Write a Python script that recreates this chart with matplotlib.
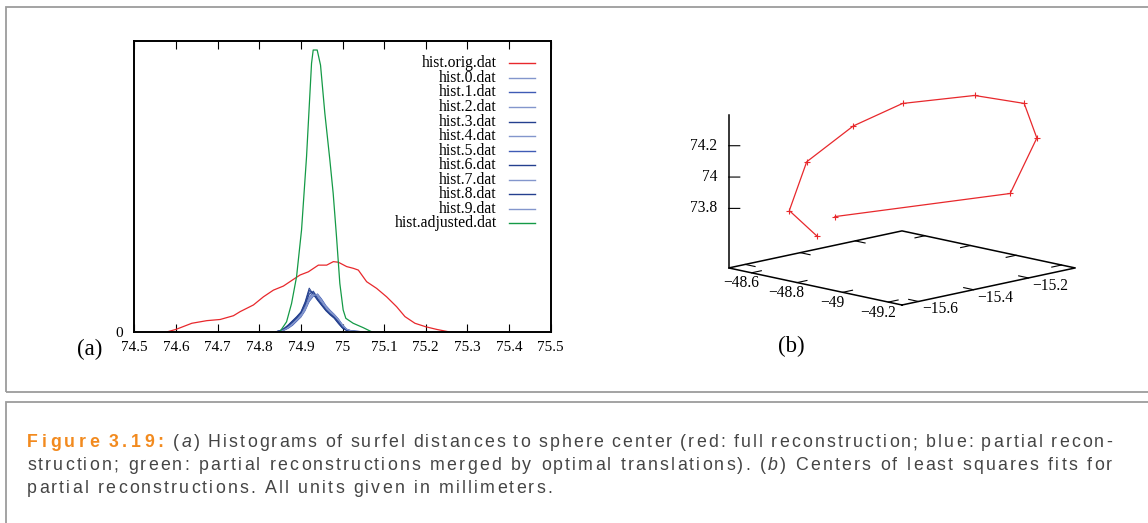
import re
import numpy as np
import matplotlib
matplotlib.use("Agg")
import matplotlib.pyplot as plt
from matplotlib.patches import Rectangle
from mpl_toolkits.mplot3d import proj3d

W, H, DPI = 1148, 523, 100
SERIF = ["Liberation Serif", "DejaVu Serif"]
CAPTION_FONT = ["Liberation Sans", "DejaVu Sans"]
plt.rcParams["font.family"] = SERIF

RED = "#e8282c"
GREEN = "#149a46"
INK = "#444444"
ORANGE = "#f28a1e"
FRAME = "#9c9c9c"

# --- (a) histograms of surfel distances (counts, axis height = 100) ---
orig_x = [74.58, 74.60, 74.638, 74.674, 74.706, 74.738, 74.754, 74.786, 74.81, 74.834,
          74.858, 74.882, 74.898, 74.918, 74.942, 74.962, 74.978, 74.99, 75.01, 75.026,
          75.038, 75.058, 75.082, 75.106, 75.13, 75.15, 75.174, 75.2, 75.226, 75.254]
orig_y = [0, 0.8, 2.9, 3.8, 4.2, 5.5, 6.9, 9.2, 12.0, 14.3,
          15.7, 18.0, 19.5, 20.6, 22.9, 22.9, 24.1, 23.9, 22.4, 21.8,
          21.2, 17.2, 14.9, 12.0, 8.6, 5.2, 2.9, 1.7, 0.8, 0]

adj_x = [74.8496, 74.8656, 74.8776, 74.8896, 74.9016, 74.9136, 74.9256, 74.9296, 74.9392,
         74.9472, 74.9576, 74.9696, 74.9776, 74.9856, 74.9936, 75.0016, 75.008, 75.0256,
         75.0496, 75.0696]
adj_y = [0, 3.4, 9.7, 18.9, 35.0, 60.2, 92.3, 96.9, 96.9,
         91.7, 75.1, 59.1, 47.6, 32.7, 16.6, 7.5, 4.6, 2.9,
         1.4, 0]

part_x = [74.84, 74.85, 74.86, 74.87, 74.88, 74.89, 74.90, 74.91, 74.92, 74.93, 74.94,
          74.95, 74.96, 74.97, 74.98, 74.99, 75.00, 75.01, 75.02, 75.03, 75.04, 75.05]
hist_0 = [0, 0.3, 1.0, 2.0, 3.4, 4.8, 6.2, 9.2, 13.8, 12.6, 11.2, 9.4, 7.6, 6.2, 5.0, 3.2, 1.4, 0.5, 0.2, 0.1, 0.05, 0]
hist_1 = [0, 0.2, 0.8, 1.6, 2.8, 4.2, 5.8, 8.4, 11.8, 13.4, 12.2, 10.0, 8.0, 6.6, 5.4, 3.8, 1.8, 0.6, 0.3, 0.1, 0.05, 0]
hist_2 = [0, 0.1, 0.6, 1.4, 2.6, 4.0, 5.4, 7.8, 11.0, 12.8, 12.6, 10.6, 8.6, 7.0, 5.8, 4.2, 2.2, 0.8, 0.3, 0.2, 0.1, 0]
hist_3 = [0, 0.4, 1.2, 2.4, 3.8, 5.2, 6.8, 10.2, 15.0, 12.8, 10.8, 9.0, 7.2, 5.8, 4.6, 2.8, 1.2, 0.4, 0.2, 0.1, 0, 0]
hist_4 = [0, 0.2, 0.9, 1.9, 3.2, 4.6, 6.2, 9.0, 12.6, 14.0, 11.8, 9.6, 7.8, 6.4, 5.2, 3.4, 1.6, 0.6, 0.2, 0.1, 0.05, 0]
hist_5 = [0, 0.1, 0.5, 1.2, 2.2, 3.6, 5.0, 7.2, 10.4, 12.2, 13.0, 11.2, 9.0, 7.4, 6.0, 4.4, 2.4, 0.9, 0.4, 0.2, 0.1, 0]
hist_6 = [0, 0.3, 1.1, 2.2, 3.6, 5.0, 6.6, 9.8, 14.2, 13.2, 11.0, 9.2, 7.4, 6.0, 4.8, 3.0, 1.3, 0.5, 0.2, 0.1, 0, 0]
hist_7 = [0, 0.2, 0.7, 1.5, 2.7, 4.1, 5.6, 8.0, 11.4, 13.0, 12.4, 10.4, 8.4, 6.8, 5.6, 4.0, 2.0, 0.7, 0.3, 0.1, 0.05, 0]
hist_8 = [0, 0.3, 0.9, 2.0, 3.3, 4.7, 6.4, 9.2, 13.0, 13.8, 11.4, 9.4, 7.6, 6.2, 5.0, 3.4, 1.5, 0.5, 0.2, 0.1, 0, 0]
hist_9 = [0, 0.1, 0.7, 1.5, 2.5, 3.9, 5.2, 7.4, 10.8, 12.4, 12.8, 10.8, 8.8, 7.2, 5.9, 4.3, 2.3, 0.8, 0.3, 0.2, 0.1, 0]
partial = [hist_0, hist_1, hist_2, hist_3, hist_4, hist_5, hist_6, hist_7, hist_8, hist_9]
blue_shades = ["#8396cc", "#3f5bb5", "#8396cc", "#24408f", "#8396cc",
               "#3f5bb5", "#24408f", "#8396cc", "#24408f", "#8396cc"]

x_ticks = [74.5, 74.6, 74.7, 74.8, 74.9, 75.0, 75.1, 75.2, 75.3, 75.4, 75.5]
x_tick_labels = ["74.5", "74.6", "74.7", "74.8", "74.9", "75", "75.1", "75.2", "75.3", "75.4", "75.5"]

# --- (b) centres of least squares fits (mm) ---
cx = [-15.563, -15.550, -15.471, -15.339, -15.218, -15.087, -15.035, -15.037, -15.148, -15.530]
cy = [-48.769, -48.633, -48.614, -48.659, -48.729, -48.887, -49.042, -49.100, -49.117, -48.809]
cz = [73.672, 73.786, 74.062, 74.255, 74.375, 74.426, 74.404, 74.202, 73.895, 73.795]
XLO, XHI = -15.66, -15.03
YLO, YHI = -49.26, -48.50
ZBASE, ZTOP = 73.42, 74.396
x3_ticks = [-15.6, -15.4, -15.2]
y3_ticks = [-48.6, -48.8, -49.0, -49.2]
z3_ticks = [73.8, 74.0, 74.2]
x3_labels = ["\u221215.6", "\u221215.4", "\u221215.2"]
y3_labels = ["\u221248.6", "\u221248.8", "\u221249", "\u221249.2"]
z3_labels = ["73.8", "74", "74.2"]

caption = [
    "Figure 3.19: ({a}) Histograms of surfel distances to sphere center (red: full reconstruction; blue: partial recon-",
    "struction; green: partial reconstructions merged by optimal translations). ({b}) Centers of least squares fits for",
    "partial reconstructions. All units given in millimeters.",
]

fig = plt.figure(figsize=(W / DPI, H / DPI), dpi=DPI)
fig.patch.set_facecolor("white")


def fx(px):
    return px / W


def fy(py):
    # image row (from top) -> figure fraction
    return (H - py) / H


# outer frames
fig.patches.append(Rectangle((fx(5.5), fy(391.5)), 1.2, 384.5 / H, transform=fig.transFigure,
                             fill=False, edgecolor=FRAME, lw=1.3))
fig.patches.append(Rectangle((fx(5.5), -0.2), 1.2, 0.2 + fy(401.7), transform=fig.transFigure,
                             fill=False, edgecolor=FRAME, lw=1.3))

# --- panel (a) ---
ax = fig.add_axes([fx(134.4), fy(331.7), 416.2 / W, 290.7 / H])
ax.plot(orig_x, orig_y, color=RED, lw=0.9)
for hist, col in zip(partial, blue_shades):
    ax.plot(part_x, hist, color=col, lw=0.7)
ax.plot(adj_x, adj_y, color=GREEN, lw=0.9)
ax.set_xlim(74.5, 75.5)
ax.set_ylim(0, 100)
ax.set_xticks(x_ticks)
ax.set_xticklabels(x_tick_labels)
ax.set_yticks([0])
ax.set_yticklabels(["0"])
ax.tick_params(axis="x", direction="in", length=6, width=0.8, top=True, labelsize=11, pad=7)
ax.tick_params(axis="y", length=0, pad=8, labelsize=11)
for sp in ax.spines.values():
    sp.set_linewidth(1.4)

legend_labels = ["hist.orig.dat"] + ["hist.%d.dat" % i for i in range(10)] + ["hist.adjusted.dat"]
legend_colors = [RED] + blue_shades + [GREEN]
for i, (lab, col) in enumerate(zip(legend_labels, legend_colors)):
    yy = 0.923 - i * 0.05
    ax.text(0.871, yy - 0.0138, lab, transform=ax.transAxes, ha="right", va="baseline", fontsize=11.3)
    ax.plot([0.900, 0.9625], [yy, yy], transform=ax.transAxes, color=col, lw=1.0)

fig.text(fx(90), fy(349), "(a)", ha="center", va="center", fontsize=16.5)
fig.text(fx(791.7), fy(346.7), "(b)", ha="center", va="center", fontsize=16.5)

# --- panel (b) ---
BOX = (1, 1, 0.639)
ax3 = fig.add_axes([0.6028, 0.2314, 0.366, 0.803], projection="3d")
ax3.set_proj_type("ortho")
ax3.view_init(elev=12.35, azim=-135)
ax3.set_xlim(XLO, XHI)
ax3.set_ylim(YLO, YHI)
ax3.set_zlim(ZBASE, ZTOP)
ax3.set_box_aspect(BOX)
ax3.set_axis_off()
ax3.set_facecolor("none")

ax3.plot([XLO, XHI, XHI, XLO, XLO], [YLO, YLO, YHI, YHI, YLO], [ZBASE] * 5, color="black", lw=1.1)
ax3.plot([XLO, XLO], [YHI, YHI], [ZBASE, ZTOP], color="black", lw=1.1)
tx = 0.0356
ty = 0.043
for v in y3_ticks:
    ax3.plot([XLO, XLO + tx], [v, v], [ZBASE, ZBASE], color="black", lw=0.8)
    ax3.plot([XHI, XHI - tx], [v, v], [ZBASE, ZBASE], color="black", lw=0.8)
for v in x3_ticks:
    ax3.plot([v, v], [YLO, YLO + ty], [ZBASE, ZBASE], color="black", lw=0.8)
    ax3.plot([v, v], [YHI, YHI - ty], [ZBASE, ZBASE], color="black", lw=0.8)
for v in z3_ticks:
    ax3.plot([XLO, XLO + 0.020], [YHI, YHI - 0.0242], [v, v], color="black", lw=0.8)

ax3.plot(cx, cy, cz, color=RED, lw=0.9, marker="+", ms=4, mew=0.8)


def screen(a, x, y, z):
    xs, ys, _ = proj3d.proj_transform(np.atleast_1d(x), np.atleast_1d(y), np.atleast_1d(z), a.get_proj())
    dx, dy = a.transData.transform((xs[0], ys[0]))
    return dx, H - dy


# fit the projected base to where the page has it
zoom = 1.0
for _ in range(2):
    fig.canvas.draw()
    lx, _ly = screen(ax3, XLO, YHI, ZBASE)
    rx, _ry = screen(ax3, XHI, YLO, ZBASE)
    zoom *= (1075 - 728.5) / (rx - lx)
    ax3.set_box_aspect(BOX, zoom=zoom)
    fig.canvas.draw()
    nx, ny = screen(ax3, XLO, YLO, ZBASE)
    pos = ax3.get_position(original=True)
    ax3.set_position([pos.x0 + (902 - nx) / W, pos.y0 - (305 - ny) / H, pos.width, pos.height])
fig.canvas.draw()

# tick labels of the 3D box, placed beside their projected tick positions
for v, lab in zip(y3_ticks, y3_labels):
    sx, sy = screen(ax3, XLO, v, ZBASE)
    fig.text(fx(sx - 10.5), fy(sy + 10.5), lab, ha="center", va="center", fontsize=11.2)
for v, lab in zip(x3_ticks, x3_labels):
    sx, sy = screen(ax3, v, YLO, ZBASE)
    fig.text(fx(sx + 21.5), fy(sy + 8), lab, ha="center", va="center", fontsize=11.2)
for v, lab in zip(z3_ticks, z3_labels):
    sx, sy = screen(ax3, XLO, YHI, v)
    fig.text(fx(sx - 11.5), fy(sy), lab, ha="right", va="center", fontsize=11.2)

# --- caption: lightly letter-spaced sans, justified like the book page ---
renderer = fig.canvas.get_renderer()
CAP_SIZE = 12.8
STYLE = {"rm": dict(color=INK),
         "it": dict(color=INK, fontstyle="italic"),
         "fig": dict(color=ORANGE, fontweight="bold")}


def width_of(s, sty="rm"):
    t = fig.text(0.5, 0.5, s, fontsize=CAP_SIZE, family=CAPTION_FONT, **STYLE[sty])
    w = t.get_window_extent(renderer).width
    t.remove()
    return w


def word_segments(word, fig_style):
    segs = []
    for part in re.split(r"(\{[^}]*\})", word):
        if not part:
            continue
        if part.startswith("{"):
            segs.append((part[1:-1], "it"))
        else:
            segs.append((part, "fig" if fig_style else "rm"))
    return segs


# tracking chosen so the last (unjustified) line ends where it does on the page
space = width_of("x x") - width_of("xx")
last = caption[2]
natural = sum(width_of(ch) for ch in last.replace(" ", "")) + space * last.count(" ")
track = max(0.0, (552 - 27 - natural) / (len(last) - 1))
FIG_TRACK = track + 1.4

baselines = [447, 470, 493]
for li, line in enumerate(caption):
    built = []
    for wi, word in enumerate(line.split(" ")):
        arts = []
        for txt, sty in word_segments(word, li == 0 and wi < 2):
            for ch in txt:
                t = fig.text(fx(27), fy(baselines[li]), ch, fontsize=CAP_SIZE, family=CAPTION_FONT,
                             va="baseline", ha="left", **STYLE[sty])
                w = t.get_window_extent(renderer).width + (FIG_TRACK if sty == "fig" else track)
                arts.append((t, w))
        built.append(arts)
    total = sum(w for arts in built for _, w in arts) - track
    gap = (1112 - 27 - total) / (len(built) - 1) if li < 2 else space + track
    x = 27.0
    for arts in built:
        for t, w in arts:
            t.set_x(fx(x))
            x += w
        x += gap

fig.savefig("out.png", dpi=DPI)
